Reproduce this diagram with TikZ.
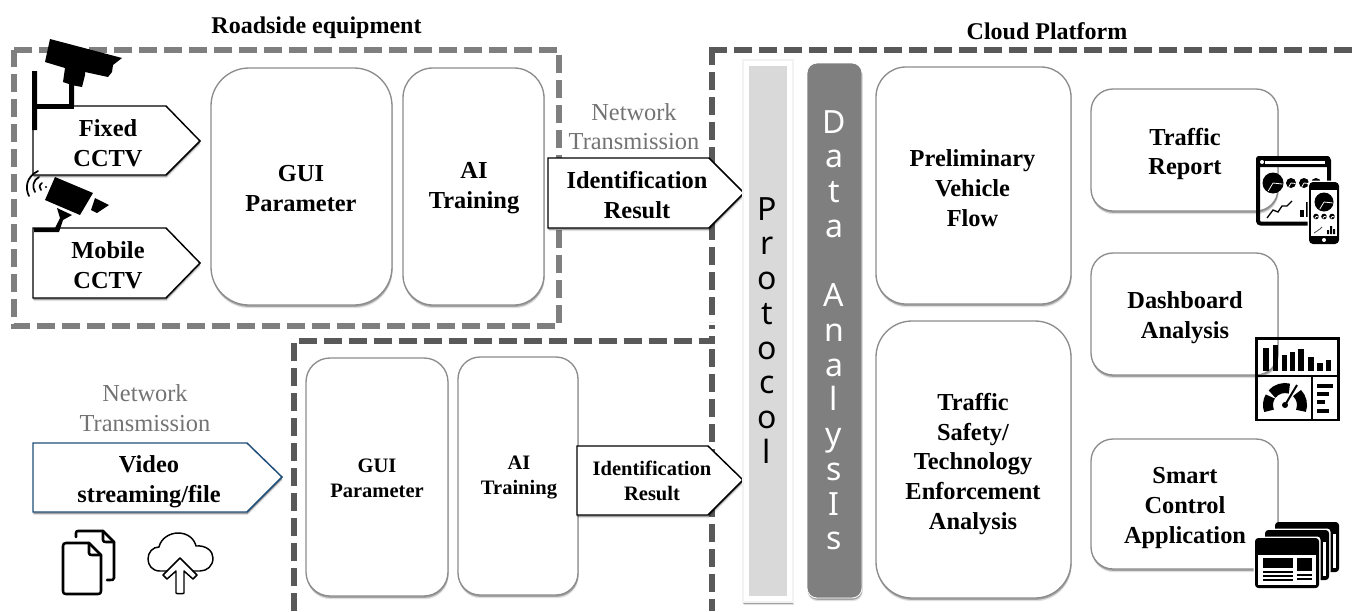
\documentclass[tikz,border=0pt]{standalone}
\usepackage{fontspec}
\setmainfont{Liberation Serif}
\newfontfamily\notos{Noto Sans}
\usetikzlibrary{shadows}
\definecolor{frameA}{HTML}{7F7F7F}
\definecolor{frameB}{HTML}{595959}
\definecolor{boxedge}{HTML}{8C8C8C}
\definecolor{protofill}{HTML}{D9D9D9}
\definecolor{datafill}{HTML}{7F7F7F}
\definecolor{videoedge}{HTML}{1F4E79}
\tikzset{
  softshadow/.style={drop shadow={shadow xshift=0.5pt,shadow yshift=-2.4pt,opacity=.12,fill=black},
                     drop shadow={shadow xshift=0.3pt,shadow yshift=-1.4pt,opacity=.28,fill=black}},
  framea/.style={draw=frameA,line width=4pt,dash pattern=on 13.6pt off 5.15pt},
  frameb/.style={draw=frameB,line width=4.5pt,dash pattern=on 13.6pt off 5.15pt},
  rbox/.style 2 args={draw=boxedge,line width=1pt,fill=white,softshadow,rounded corners=#2*.75pt,inner sep=0,
      minimum width=#1*.75pt},
  rh/.style={minimum height=#1*.75pt},
  arrowbox/.style={draw=black,line width=1.1pt,fill=white,softshadow,line join=miter},
  lab/.style={font=\bfseries\fontsize{18.3}{22.4}\selectfont,align=center,inner sep=0,text=black},
  labs/.style={font=\bfseries\fontsize{15.4}{18.8}\selectfont,align=center,inner sep=0,text=black},
  nettext/.style={font=\fontsize{18.3}{22}\selectfont,align=center,inner sep=0,text=black!55},
  title/.style={font=\bfseries\fontsize{18}{22}\selectfont,inner sep=0},
  vert/.style={font=\notos\fontsize{24}{26.05}\selectfont,align=center,inner sep=0,anchor=north},
  ink/.style={line width=1.9pt,draw=black,line join=round,line cap=round},
  thinink/.style={line width=1.1pt,draw=black,line join=round,line cap=round},
}
\newcommand{\mypie}[3]{\fill (#1,#2) circle[radius=#3];
  \draw[white,line width=.6pt] (#1,#2) -- ++(-.45*#3,.75*#3) (#1,#2) -- ++(.9*#3,.1*#3);}
\begin{document}
\begin{tikzpicture}[x=.75pt,y=-.75pt]
\useasboundingbox (0,0) rectangle (1358,611);

% dashed frames
\path[framea] (14,50) -- (559,50) -- (559,326) -- (14,326) -- cycle;
\path[frameb] (709,50) -- (1358,50);
\path[frameb] (712,47) -- (712,322);
\path[frameb] (294,611) -- (294,340.7) -- (712,340.7) -- (712,325);
\path[frameb] (712,349) -- (712,611);

% titles
\node[title] (t1) at (316.5,28) {Roadside equipment};
\node[title] (t2) at (1047,31) {Cloud Platform};

% roadside
\path[arrowbox] (33,106) -- (166,106) -- (200,141) -- (166,175) -- (33,175) -- cycle;
\node[lab] (fixed) at (108,143) {Fixed\\CCTV};
\path[arrowbox] (33,228) -- (166,228) -- (200,263) -- (166,298) -- (33,298) -- cycle;
\node[lab] (mobile) at (108,265) {Mobile\\CCTV};
\node[rbox={181}{38},rh=237,lab] (gui1) at (301.5,186.5) {};
\node[lab] (gui1t) at (301,188.5) {GUI\\Parameter};
\node[rbox={141}{30},rh=237,lab] (ai1) at (473.5,186.5) {};
\node[lab] (ai1t) at (474,188.5) {AI\\Training};

% network labels and result arrows
\node[nettext] (net1) at (634,126.5) {Network\\Transmission};
\path[arrowbox] (548,158) -- (709,158) -- (744,193) -- (709,228) -- (548,228) -- cycle;
\node[lab] (res1) at (637,195) {Identification\\Result};

% video
\node[nettext] (net2) at (145,408) {Network\\Transmission};
\path[arrowbox,draw=videoedge] (33,443) -- (247,443) -- (282,477) -- (247,512) -- (33,512) -- cycle;
\node[lab] (video) at (149,482) {Video\\streaming/file};

% lower boxes
\node[rbox={142}{24},rh=238] (gui2) at (377,477) {};
\node[labs] (gui2t) at (377,478.5) {GUI\\Parameter};
\node[rbox={120}{22},rh=238] (ai2) at (518,476) {};
\node[labs] (ai2t) at (519,477.5) {AI\\Training};
\path[arrowbox] (577,446) -- (708,446) -- (743,480) -- (708,515) -- (577,515) -- cycle;
\node[labs] (res2) at (652,480.5) {Identification\\Result};

% bars
\path[fill=white,draw=black!5,line width=.8pt,softshadow] (743,60) rectangle (793,602);
\fill[protofill] (749,66) rectangle (787,596);
\node[vert,text=black] (proto) at (767,197) {P\\r\\o\\t\\o\\c\\o\\l};
\path[fill=datafill,draw=white,line width=.6pt,rounded corners=7.5pt,softshadow] (807,63) rectangle (862,598);
\node[vert,text=white] (data) at (834,110) {D\\a\\t\\a\\[0pt]\mbox{}\\A\\n\\a\\l\\y\\s\\I\\s};

% cloud boxes
\node[rbox={195}{30},rh=237] (pre) at (973.5,185.5) {};
\node[lab] (pret) at (972.5,188) {Preliminary\\Vehicle\\Flow};
\node[rbox={195}{36},rh=277] (saf) at (973.5,459.5) {};
\node[lab] (saft) at (973,464) {Traffic\\Safety/\\Technology\\Enforcement\\Analysis};
\node[rbox={187}{22},rh=122] (rep) at (1184.5,150) {};
\node[lab] (rept) at (1185,154) {Traffic\\Report};
\node[rbox={187}{22},rh=122] (das) at (1184.5,314) {};
\node[lab] (dast) at (1185,318) {Dashboard\\Analysis};
\node[rbox={187}{22},rh=130] (sma) at (1184.5,504) {};
\node[lab] (smat) at (1185,508) {Smart\\Control\\Application};

% fixed camera
\fill (50,39) -- (122,58) -- (113,65) -- (112,72) -- (108,77) -- (85,72) -- (85,75) -- (82,87) -- (74,85.5) -- (74,105) -- (37,105) -- (37,130) -- (32,130) -- (32,71) -- (37,71) -- (37,104) -- (69,104) -- (69,84) -- (63,82) -- (65,68) -- (45,62) -- cycle;
\fill (34,104) rectangle (74,109);
% mobile camera
\fill (55,177) -- (93,193) -- (80,215) -- (45,200) -- cycle;
\fill (95,198) -- (109,205) -- (97,213) -- (91,210) -- cycle;
\fill (57,208) -- (72,215) -- (63,220) -- (59,232) -- (34,232) -- (34,228) -- (55,228) -- (60,218) -- cycle;
\draw[thinink,line width=1.3pt] (38,171) .. controls (26,177) and (25,188) .. (29,196);
\draw[thinink,line width=1.3pt] (39,177) .. controls (33,180) and (32,187) .. (35,192);
\draw[thinink,line width=1.3pt] (42,183) .. controls (39,185) and (39,188) .. (41,190);
\fill (46,187) circle[radius=1.2];

% files icon
\draw[ink] (76,537) -- (76,533) .. controls (76,531.5) and (77,531) .. (78,531) -- (103,531) -- (114,542) -- (114,578) .. controls (114,580) and (113,580) .. (107,580);
\draw[ink] (103,531) -- (103,540) .. controls (103,541.5) and (104,542) .. (106,542) -- (114,542);
\draw[ink] (66,543) -- (89,543) -- (101,555) -- (101,591) .. controls (101,593) and (100,594) .. (98,594) -- (66,594) .. controls (64,594) and (63,593) .. (63,591) -- (63,546) .. controls (63,544) and (64,543) .. (66,543);
\draw[ink] (89,543) -- (89,553) .. controls (89,554.5) and (90,555) .. (92,555) -- (101,555);
% cloud icon
\draw[thinink] (167,571) -- (160,571) .. controls (152,571) and (148,565) .. (148,559) .. controls (148,552) and (153,547) .. (159,547) .. controls (161,538) and (170,533) .. (178,533) .. controls (187,533) and (194,538) .. (196,546) .. controls (206,545) and (213,551) .. (213,558) .. controls (213,566) and (207,571) .. (200,571) -- (193,571);
\draw[thinink] (176,593) -- (176,571) -- (167,579) -- (163,575) -- (180,558) -- (197,575) -- (193,579) -- (184,571) -- (184,593) .. controls (184,594) and (176,594) .. (176,593);

% report icon
\draw[black,line width=3pt,rounded corners=2pt] (1258,158) rectangle (1329,223.5);
\fill[rounded corners=2pt] (1256,156) rectangle (1330,167);
\fill[white] (1265,160.5) rectangle (1325,163.5);
\fill[white] (1262,162) circle[radius=2];
\mypie{1273}{183}{10.5}
\foreach \cx in {1291,1304,1316} {\mypie{\cx}{183}{5}}
\draw[black,line width=1pt] (1267,218) -- (1273,210) -- (1278,212) -- (1282,206) -- (1287,206) -- (1292,201);
\fill (1300,210) rectangle (1304,217);
\fill (1306,202) rectangle (1310,217);
\fill[white,rounded corners=3pt] (1307.5,180.5) rectangle (1340.5,245.5);
\fill[rounded corners=3pt] (1309,182) rectangle (1339,244);
\fill[white] (1311,190) rectangle (1337,236);
\fill[white] (1324,240) circle[radius=2];
\mypie{1324}{202}{9.5}
\foreach \cx in {1316,1324,1332} {\mypie{\cx}{216.5}{2.8}}
\draw[black!70,line width=.6pt] (1314,233) -- (1320,229) -- (1322,227);
\fill (1327,230) rectangle (1329,234) (1330,226) rectangle (1332,234) (1333,229) rectangle (1335,234);

% dashboard icon
\draw[black,line width=2pt] (1256.5,338.5) rectangle (1338.5,420);
\draw[black,line width=2pt] (1256.5,376) -- (1338.5,376) (1312,376) -- (1312,420);
\foreach \bx/\by in {550/55,578/45,605/75,630/65,655/57,685/80,712/100,737/90}
  {\fill ({1080+\bx/3},{330+\by/3}) rectangle ({1080+\bx/3+5.3},371);}
\begin{scope}[shift={(1285,405)}]
  \draw[black,line width=7.5pt] (-200:17) arc[start angle=-200,end angle=-150,radius=17];
  \draw[black,line width=7.5pt] (-140:17) arc[start angle=-140,end angle=-75,radius=17];
  \draw[black,line width=7.5pt] (-45:17) arc[start angle=-45,end angle=20,radius=17];
  \draw[white,line width=3.2pt] (0,0) -- (12,-20);
  \draw[black,line width=1.5pt] (0,0) -- (12,-20);
  \fill (0,0) circle[radius=3];
\end{scope}
\fill (1317,383.5) rectangle (1333,387.5);
\fill (1317,392) rectangle (1328.5,396);
\fill (1317,400) rectangle (1325,404);
\fill (1317,409) rectangle (1328.5,413);

% application icon
\fill[rounded corners=2.5pt] (1275,522) rectangle (1339,572);
\fill[white] (1333,534) rectangle (1336,568);
\fill[white,rounded corners=2.5pt] (1263.5,528.5) rectangle (1330.5,581.5);
\fill[rounded corners=2.5pt] (1265,530) rectangle (1329,580);
\fill[white] (1323,542) rectangle (1326,576);
\fill[white,rounded corners=2.5pt] (1253.5,536.5) rectangle (1320.5,589.5);
\fill[rounded corners=2.5pt] (1255,538) rectangle (1319,588);
\fill[white] (1258,555) rectangle (1316,585);
\fill (1263,558) rectangle (1293,568);
\fill (1297,558) rectangle (1312,571);
\fill (1263,571) rectangle (1293,573);
\fill (1263,575) rectangle (1293,577);
\fill (1263,579) rectangle (1293,581);
\fill (1297,574) rectangle (1312,576);
\fill (1297,578) rectangle (1312,580);
\end{tikzpicture}
\end{document}
